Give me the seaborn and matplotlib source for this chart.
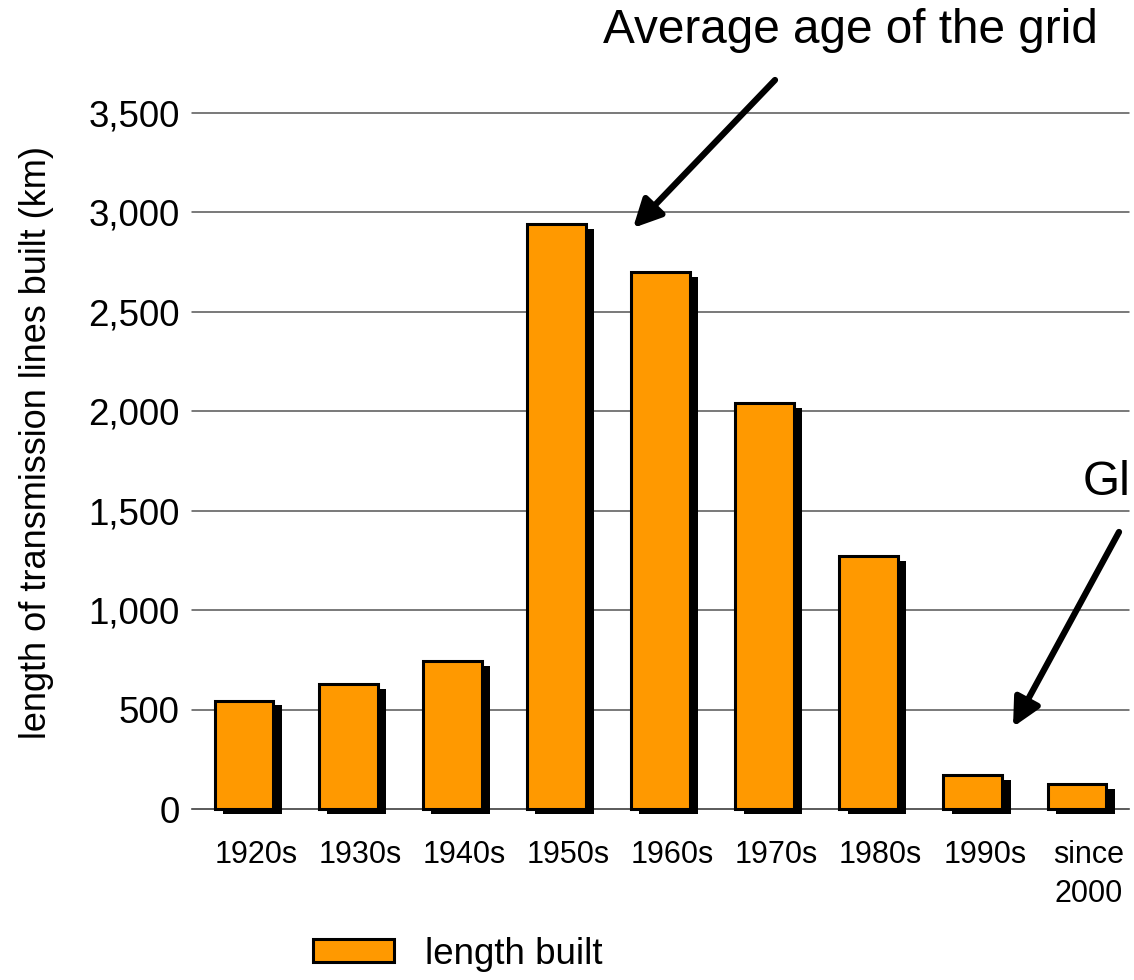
import matplotlib
matplotlib.use('Agg')
import matplotlib.pyplot as plt
import matplotlib.patches as mpatches
import matplotlib.patheffects as pe
import matplotlib.transforms as mtransforms
from matplotlib.ticker import FixedLocator, FuncFormatter
import seaborn as sns
import pandas as pd

decades = ["1920s", "1930s", "1940s", "1950s", "1960s", "1970s", "1980s", "1990s", "since\n2000"]
length_km = [545, 630, 745, 2940, 2700, 2040, 1270, 170, 125]
y_ticks = [0, 500, 1000, 1500, 2000, 2500, 3000, 3500]
legend_label = "length built"
y_label = "length of transmission lines built (km)"
note_main = "Average age of the grid"
note_side = "Gl"

sns.set_style("white")
plt.rcParams['font.family'] = ['Liberation Sans', 'DejaVu Sans']
plt.rcParams['text.color'] = 'black'
plt.rcParams['axes.labelcolor'] = 'black'
plt.rcParams['xtick.color'] = 'black'
plt.rcParams['ytick.color'] = 'black'

W, H = 1134, 980
df = pd.DataFrame({"decade": decades, "length": length_km})
fig = plt.figure(figsize=(W / 100, H / 100), dpi=100)
ax = fig.add_axes([192 / W, 1 - 809 / H, (1129 - 192) / W, (809 - 113) / H])

BAR = "#ff9900"
sns.barplot(data=df, x="decade", y="length", color=BAR, saturation=1, width=0.565,
            edgecolor="black", linewidth=2.2, ax=ax, zorder=3)
for p in ax.patches:
    p.set_path_effects([pe.SimplePatchShadow(offset=(6, -3.5), shadow_rgbFace='black', alpha=1.0),
                        pe.Normal()])
    p.set_clip_on(False)

ax.set_ylim(0, 3500)
ax.set_xlim(-0.5, len(decades) - 0.5)
ax.set_yticks(y_ticks)
ax.yaxis.set_major_formatter(FuncFormatter(lambda v, pos: f"{int(v):,}"))
ax.grid(axis='y', color='#555555', linewidth=1.1)
for gl in ax.get_ygridlines():
    gl.set_clip_on(False)
ax.set_axisbelow(True)
for s in ['left', 'right', 'top']:
    ax.spines[s].set_visible(False)
ax.spines['bottom'].set_color('#555555')
ax.spines['bottom'].set_linewidth(1.1)

ax.tick_params(axis='y', length=0, pad=9, labelsize=26.5, labelcolor='black')
ax.tick_params(axis='x', which='major', length=0, pad=22, labelsize=22, labelcolor='black')
ax.xaxis.set_minor_locator(FixedLocator([i - 0.5 for i in range(len(decades) + 1)]))
ax.tick_params(axis='x', which='minor', direction='inout', length=11.5, width=1, color='#555555')

offset = mtransforms.ScaledTranslation(12 / 100, 0, fig.dpi_scale_trans)
for lab in ax.get_xticklabels():
    lab.set_transform(lab.get_transform() + offset)
    lab.set_linespacing(1.4)
    lab.set_multialignment('center')

ax.set_xlabel("")
ax.set_ylabel(y_label, fontsize=26, color='black')
ax.yaxis.set_label_coords((54 - 192) / 937, (809 - 442.5) / 696)

# annotations
fig.text(603 / W, 1 - 43 / H, note_main, ha='left', va='baseline', fontsize=34.4, color='black')
fig.text(1083 / W, 1 - 495 / H, note_side, ha='left', va='baseline', fontsize=34.4, color='black')
aprops = dict(arrowstyle='-|>,head_length=0.6,head_width=0.3', color='black', lw=4.5,
              mutation_scale=28, shrinkA=0, shrinkB=0)
ax.annotate('', xy=(633, H - 228), xytext=(775, H - 80), xycoords='figure pixels',
            textcoords='figure pixels', arrowprops=aprops, annotation_clip=False)
ax.annotate('', xy=(1013, H - 727), xytext=(1119, H - 532), xycoords='figure pixels',
            textcoords='figure pixels', arrowprops=aprops, annotation_clip=False)

handle = mpatches.Patch(facecolor=BAR, edgecolor='black', linewidth=2.2, label=legend_label)
fig.legend(handles=[handle], loc='center left', bbox_to_anchor=(313 / W, 1 - 954 / H),
           frameon=False, fontsize=26.5, handlelength=2.2, handleheight=0.6,
           handletextpad=0.83, borderpad=0, borderaxespad=0, labelcolor='black')

fig.savefig("out.png", dpi=100)
